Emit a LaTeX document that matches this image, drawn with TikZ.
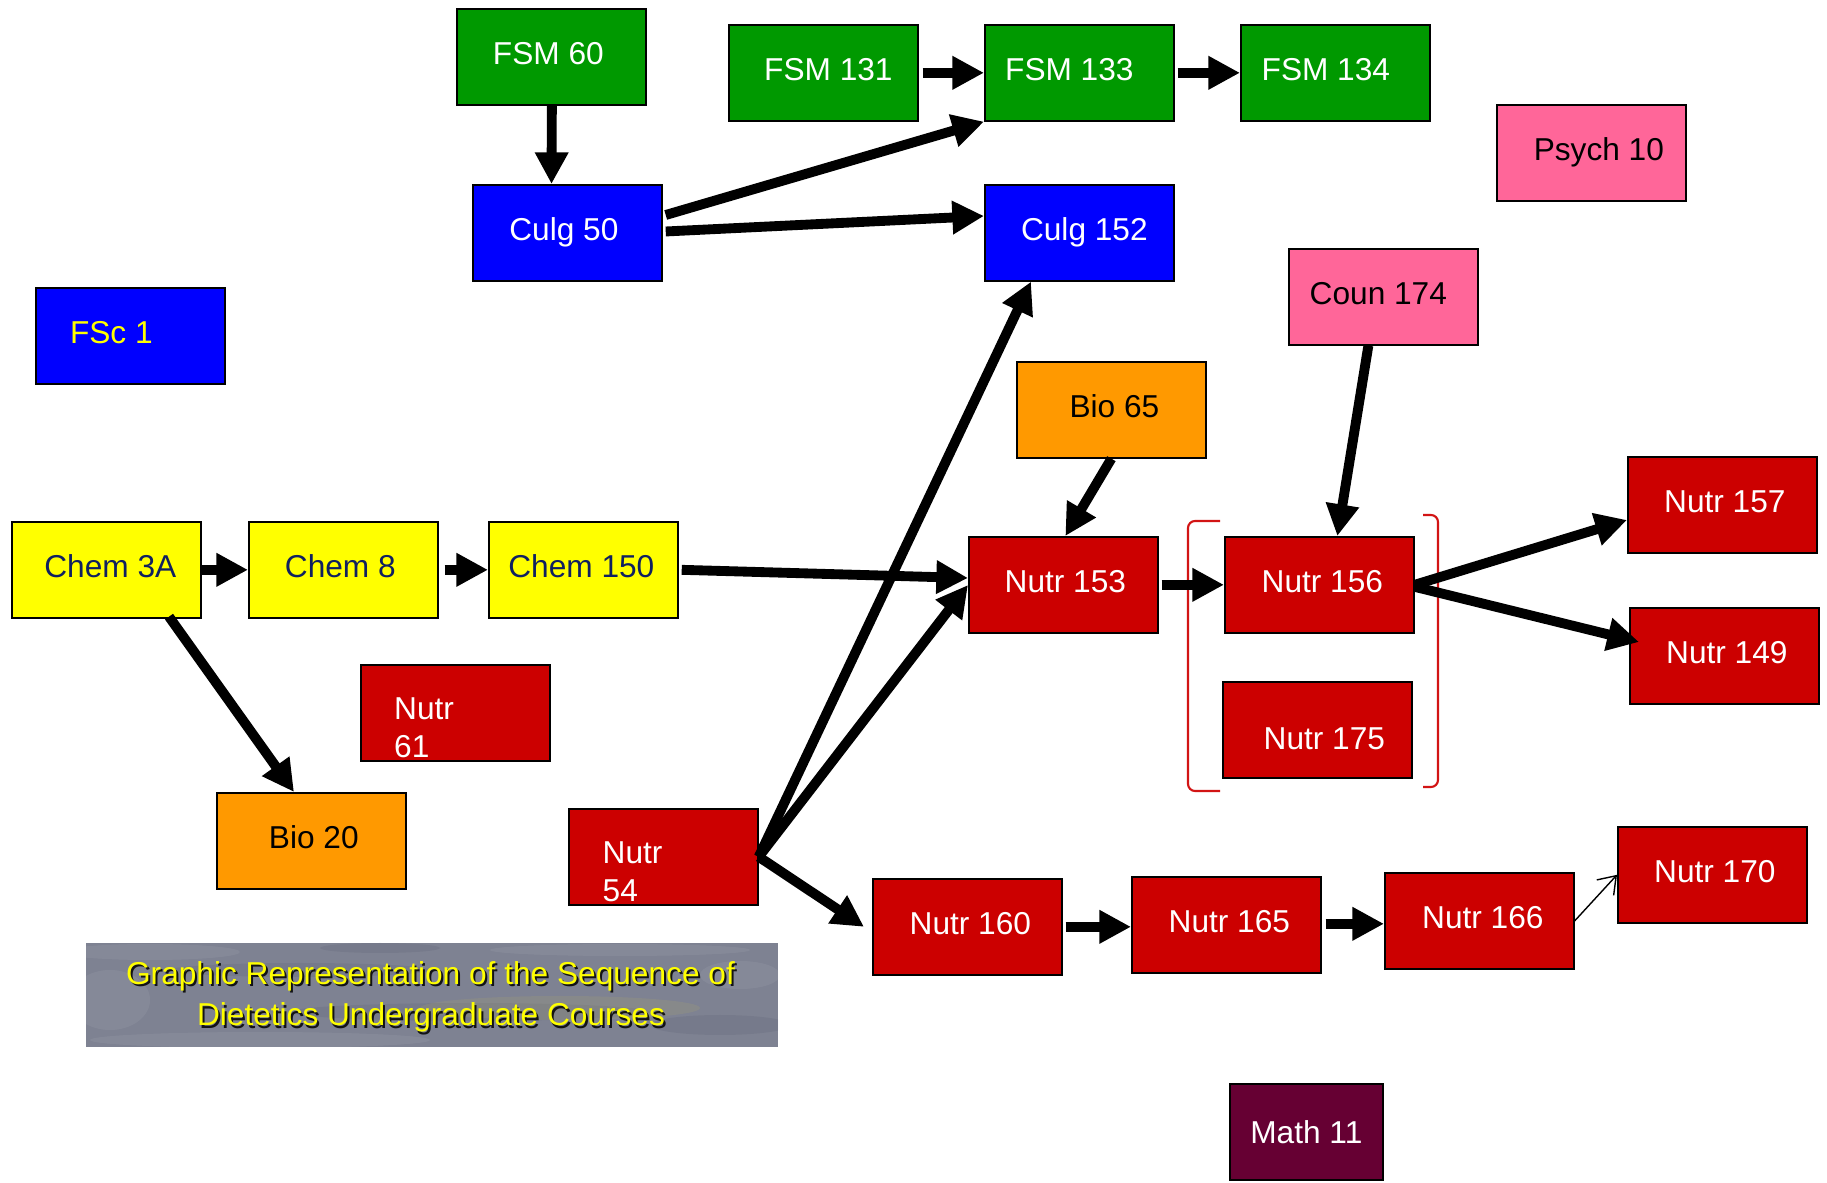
\documentclass[tikz,border=0pt]{standalone}
\usepackage{fontspec}
\setmainfont{Liberation Sans}
\usetikzlibrary{arrows.meta,calc}
\definecolor{fsmgreen}{RGB}{0,153,0}
\definecolor{culgblue}{RGB}{0,0,255}
\definecolor{chemyellow}{RGB}{255,255,0}
\definecolor{nutrred}{RGB}{204,0,0}
\definecolor{bioorange}{RGB}{255,153,0}
\definecolor{pinkbox}{RGB}{255,102,153}
\definecolor{maroonbox}{RGB}{102,0,51}
\definecolor{navytext}{RGB}{16,32,96}
\definecolor{bracketred}{RGB}{210,20,20}
\definecolor{bannergray}{RGB}{126,130,146}
\definecolor{bannerdark}{RGB}{80,86,104}
\definecolor{bannerlight}{RGB}{175,178,188}
\definecolor{bannerstreak}{RGB}{170,165,110}
\definecolor{titleyellow}{RGB}{255,255,0}
\newcommand\Lsh[1]{\hspace*{#1}}
\begin{document}
\begin{tikzpicture}[x=0.01cm,y=-0.01cm,
  box/.style={draw=black,line width=0.6pt,anchor=north west,minimum width=1.885cm,
    minimum height=0.955cm,inner sep=0pt,font=\fontsize{9}{10.8}\selectfont,
    text height=6.5pt,text depth=2.34pt},
  arr/.style={line width=2.8pt,-{Triangle[length=9pt,width=9pt]}},
  thinarr/.style={line width=0.4pt,-{Straight Barb[length=4.6pt,width=6.5pt]}},
  lbl/.style={inner sep=0pt,font=\fontsize{9}{10.8}\selectfont},
  brk/.style={draw=bracketred,line width=0.6pt,rounded corners=2pt},
  blob/.style={opacity=0.16},
]
\useasboundingbox (0,0) rectangle (1827,1183);
\fill[white] (0,0) rectangle (1827,1183);

% green FSM boxes
\node[box,fill=fsmgreen,text=white] (fsm60)  at (456,8)  {FSM 60\Lsh{0.06cm}};
\node[box,fill=fsmgreen,text=white] (fsm131) at (728,24) {\Lsh{0.10cm}FSM 131};
\node[box,fill=fsmgreen,text=white] (fsm133) at (984,24) {FSM 133\Lsh{0.20cm}};
\node[box,fill=fsmgreen,text=white] (fsm134) at (1240,24) {FSM 134\Lsh{0.19cm}};

% pink
\node[box,fill=pinkbox,text=black] (psych10) at (1496,104) {\Lsh{0.15cm}Psych 10};
\node[box,fill=pinkbox,text=black] (coun174) at (1288,248) {Coun 174\Lsh{0.10cm}};

% blue
\node[box,fill=culgblue,text=white] (culg50)  at (472,184) {Culg 50\Lsh{0.07cm}};
\node[box,fill=culgblue,text=white] (culg152) at (984,184) {\Lsh{0.10cm}Culg 152};
\node[box,fill=culgblue,text=titleyellow] (fsc1) at (35,287) {FSc 1\Lsh{0.38cm}};

% orange
\node[box,fill=bioorange,text=black] (bio65) at (1016,361) {\Lsh{0.06cm}Bio 65};
\node[box,fill=bioorange,text=black] (bio20) at (216,792) {\Lsh{0.05cm}Bio 20};

% yellow chem
\node[box,fill=chemyellow,text=navytext] (chem3a)  at (11,521)  {\Lsh{0.08cm}Chem 3A};
\node[box,fill=chemyellow,text=navytext] (chem8)   at (248,521) {Chem 8\Lsh{0.06cm}};
\node[box,fill=chemyellow,text=navytext] (chem150) at (488,521) {Chem 150\Lsh{0.04cm}};

% red nutr
\node[box,fill=nutrred,text=white] (nutr157) at (1627,456) {\Lsh{0.05cm}Nutr 157};
\node[box,fill=nutrred,text=white] (nutr153) at (968,536)  {\Lsh{0.04cm}Nutr 153};
\node[box,fill=nutrred,text=white] (nutr156) at (1224,536) {\Lsh{0.06cm}Nutr 156};
\node[box,fill=nutrred,text=white] (nutr149) at (1629,607) {\Lsh{0.05cm}Nutr 149};
\node[box,fill=nutrred,text=white,text height=11.3pt,text depth=0pt] (nutr175) at (1222,681) {\Lsh{0.14cm}Nutr 175};
\node[box,fill=nutrred,text=white] (nutr170) at (1617,826) {\Lsh{0.05cm}Nutr 170};
\node[box,fill=nutrred,text=white] (nutr166) at (1384,872) {\Lsh{0.07cm}Nutr 166};
\node[box,fill=nutrred,text=white] (nutr165) at (1131,876) {\Lsh{0.06cm}Nutr 165};
\node[box,fill=nutrred,text=white] (nutr160) at (872,878)  {\Lsh{0.06cm}Nutr 160};

\node[box,fill=nutrred] (nutr61) at (360,664) {};
\node[lbl,text=white,anchor=north west,align=left] (nutr61t) at (393.5,697) {Nutr\\61};
\node[box,fill=nutrred] (nutr54) at (568,808) {};
\node[lbl,text=white,anchor=north west,align=left] (nutr54t) at (602,841) {Nutr\\54};

% maroon
\node[box,fill=maroonbox,text=white,minimum width=1.525cm,text height=6.44pt,text depth=0pt] (math11) at (1229,1083) {Math 11};

% brackets
\draw[brk] (1220,521) -- (1188,521) -- (1188,791) -- (1220,791);
\draw[brk] (1423,515) -- (1438,515) -- (1438,787) -- (1423,787);

% banner
\begin{scope}
\clip (86,943) rectangle (778,1047);
\fill[bannergray] (86,943) rectangle (778,1047);
\fill[bannerlight,blob] (150,952) ellipse (90 and 8);
\fill[bannerlight,blob] (110,1000) ellipse (40 and 30);
\fill[bannerdark,blob] (300,970) ellipse (130 and 7);
\fill[bannerdark,blob] (470,1012) ellipse (180 and 9);
\fill[bannerlight,blob] (620,950) ellipse (130 and 6);
\fill[bannerstreak,opacity=0.22] (560,1008) ellipse (140 and 12);
\fill[bannerlight,blob] (260,1040) ellipse (170 and 8);
\fill[bannerdark,blob] (720,1025) ellipse (70 and 10);
\fill[bannerdark,blob] (380,948) ellipse (60 and 5);
\fill[bannerlight,blob] (740,975) ellipse (40 and 14);
\end{scope}
\node[lbl,text=black,opacity=0.85,anchor=base] (title1s) at (432.5,986.5) {Graphic Representation of the Sequence of};
\node[lbl,text=titleyellow,anchor=base] (title1) at (430.5,984.5) {Graphic Representation of the Sequence of};
\node[lbl,text=black,opacity=0.85,anchor=base] (title2s) at (433,1028) {Dietetics Undergraduate Courses};
\node[lbl,text=titleyellow,anchor=base] (title2) at (431,1026) {Dietetics Undergraduate Courses};

% connectors
\draw[arr] ($(fsm60.south)+(0.5,0)$) -- ($(culg50.north west)+(79.5,0)$);
\draw[arr] ($(fsm131.east)+(4,0)$) -- (fsm133.west);
\draw[arr] ($(fsm133.east)+(3,0)$) -- (fsm134.west);
\draw[arr] ($(culg50.north east)+(3,31)$) -- (fsm133.south west);
\draw[arr] ($(culg50.north east)+(3,47.5)$) -- ($(culg152.north west)+(0,32)$);
\draw[arr] (chem3a.east) -- (chem8.west);
\draw[arr] ($(chem8.east)+(6,0)$) -- (chem150.west);
\draw[arr] ($(chem150.east)+(3,0)$) -- ($(nutr153.north west)+(0,42)$);
\draw[arr] ($(chem3a.south west)+(158,-2)$) -- ($(bio20.north west)+(78,0)$);
\draw[arr] (nutr54.east) -- ($(culg152.south west)+(47,0)$);
\draw[arr] (nutr54.east) -- ($(nutr153.north west)+(0,49)$);
\draw[arr] (nutr54.east) -- ($(nutr160.west)+(-8,0)$);
\draw[arr] (bio65.south) -- ($(nutr153.north)+(2,0)$);
\draw[arr] ($(coun174.south)+(-15,0)$) -- ($(nutr156.north)+(18,0)$);
\draw[arr] ($(nutr153.east)+(3,0)$) -- (nutr156.west);
\draw[arr] (nutr156.east) -- ($(nutr157.north west)+(0,64)$);
\draw[arr] ($(nutr156.east)+(0,2)$) -- ($(nutr149.north west)+(10,35)$);
\draw[arr] ($(nutr160.east)+(3,0)$) -- (nutr160.east -| nutr165.west);
\draw[arr] ($(nutr165.east)+(4,-1)$) -- ($(nutr165.east -| nutr166.west)+(0,-1)$);
\draw[thinarr] (nutr166.east) -- (nutr170.west);
\end{tikzpicture}
\end{document}
